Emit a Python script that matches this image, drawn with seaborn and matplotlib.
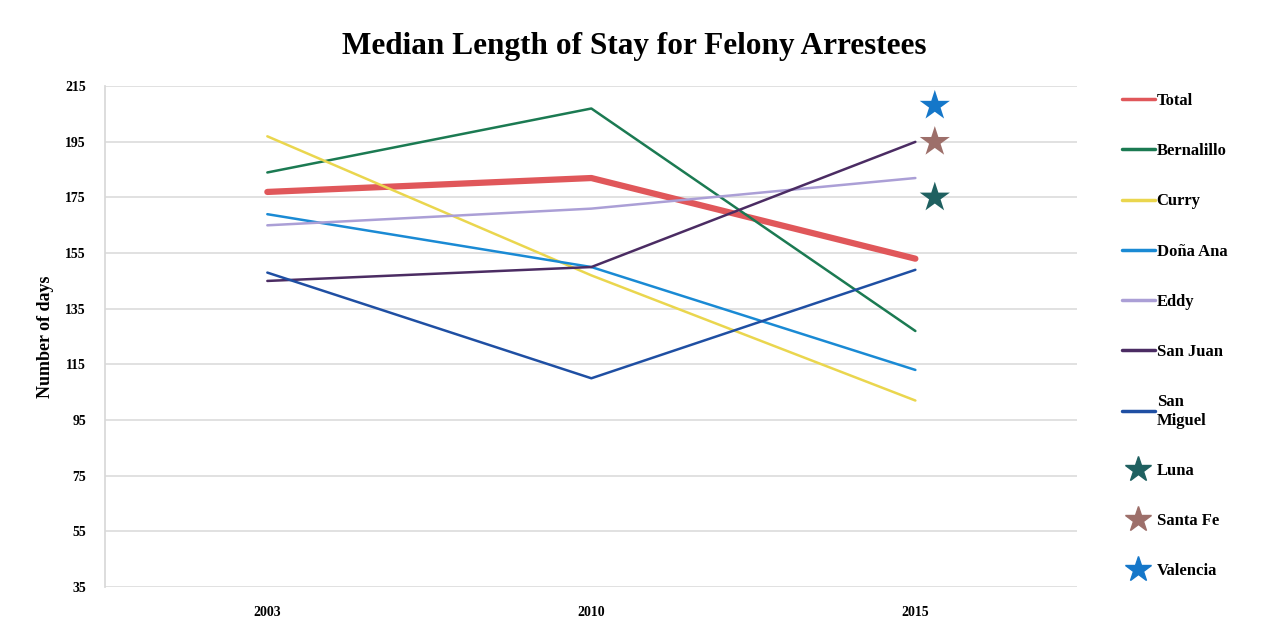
import matplotlib
matplotlib.use("Agg")
import matplotlib.pyplot as plt
import seaborn as sns
import pandas as pd
from matplotlib.lines import Line2D

years = ["2003", "2010", "2015"]
total = [177, 182, 153]
bernalillo = [184, 207, 127]
curry = [197, 147, 102]
dona_ana = [169, 150, 113]
eddy = [165, 171, 182]
san_juan = [145, 150, 195]
san_miguel = [148, 110, 149]

star_names = ["Luna", "Santa Fe", "Valencia"]
star_values = [175, 195, 208]

series = {
    "Total": total,
    "Bernalillo": bernalillo,
    "Curry": curry,
    "Doña Ana": dona_ana,
    "Eddy": eddy,
    "San Juan": san_juan,
    "San\nMiguel": san_miguel,
}
colors = {
    "Total": "#e0575a",
    "Bernalillo": "#1b7a52",
    "Curry": "#ead64e",
    "Doña Ana": "#1a8ad4",
    "Eddy": "#ab9fd6",
    "San Juan": "#4b2c63",
    "San\nMiguel": "#1f4fa3",
}
star_colors = {"Luna": "#1f6060", "Santa Fe": "#9d6f6a", "Valencia": "#1577c9"}

rows = []
for name, vals in series.items():
    for y, v in zip(years, vals):
        rows.append({"Year": y, "County": name, "Days": v})
df = pd.DataFrame(rows)
df["x"] = df["Year"].map({y: i for i, y in enumerate(years)})

sdf = pd.DataFrame({"County": star_names, "Days": star_values,
                    "x": [len(years) - 1 + 0.06] * len(star_names)})

sns.set_theme(style="white")
plt.rcParams["font.family"] = ["Liberation Serif", "DejaVu Serif"]
plt.rcParams["text.color"] = "black"
plt.rcParams["axes.labelcolor"] = "black"
plt.rcParams["xtick.color"] = "black"
plt.rcParams["ytick.color"] = "black"

fig = plt.figure(figsize=(12.69, 6.25), dpi=100)
ax = fig.add_axes([0.083, 0.061, 0.766, 0.801])

sizes = {k: (4.5 if k == "Total" else 1.8) for k in series}
sns.lineplot(data=df, x="x", y="Days", hue="County", palette=colors,
             size="County", sizes=sizes, ax=ax, legend=False, sort=False)
sns.scatterplot(data=sdf, x="x", y="Days", hue="County", palette=star_colors,
                marker="*", s=520, ax=ax, legend=False, linewidth=0, zorder=5)

ax.set_xlim(-0.5, 2.5)
ax.set_ylim(35, 215)
ax.set_yticks(range(35, 216, 20))
ax.set_xticks(range(len(years)))
ax.set_xticklabels(years)
for lab in ax.get_xticklabels() + ax.get_yticklabels():
    lab.set_fontweight("bold")
    lab.set_fontsize(10)
ax.tick_params(axis="both", length=0, pad=14)
ax.yaxis.grid(True, color="#dcdcdc", linewidth=1.2)
for s in ax.spines.values():
    s.set_visible(False)
ax.spines["left"].set_visible(True)
ax.spines["left"].set_color("#d8d8d8")
ax.set_xlabel("")
ax.set_ylabel("Number of days", fontsize=13, fontweight="bold", labelpad=8)
fig.text(0.5, 0.925, "Median Length of Stay for Felony Arrestees",
         ha="center", va="center", fontsize=22.5, fontweight="bold")

handles = []
labels = []
for name in series:
    handles.append(Line2D([0], [0], color=colors[name], lw=2.5))
    labels.append(name)
for name in star_names:
    handles.append(Line2D([0], [0], color=star_colors[name], marker="*",
                          markersize=19, linestyle="none"))
    labels.append(name)
leg = fig.legend(handles, labels, loc="upper left", bbox_to_anchor=(0.872, 0.875),
                 frameon=False, handlelength=2.0, handletextpad=0.1,
                 labelspacing=2.05, prop={"family": "Liberation Serif",
                                          "weight": "bold", "size": 12})

fig.savefig("out.png", dpi=100, facecolor="white")
